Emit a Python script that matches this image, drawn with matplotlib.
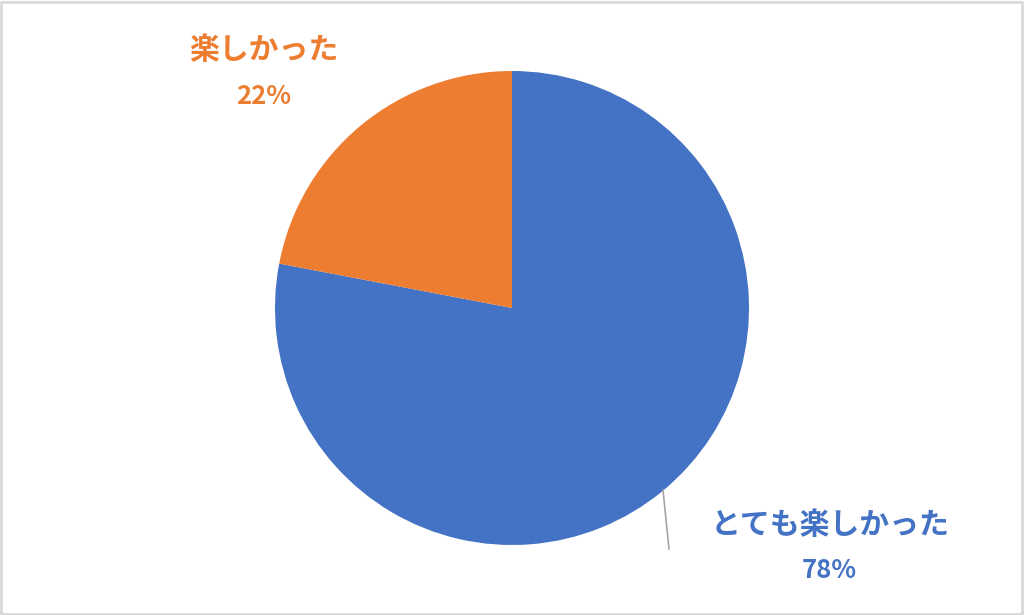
import matplotlib.pyplot as plt
from matplotlib.patches import Rectangle

plt.rcParams['font.family'] = ['Noto Sans CJK JP', 'DejaVu Sans']

labels = ['とても楽しかった', '楽しかった']
values = [78, 22]
colors = ['#4472C4', '#ED7D31']

W, H = 1024, 615
fig = plt.figure(figsize=(W / 100, H / 100), dpi=100)
ax = fig.add_axes([0, 0, 1, 1])

# pie centred in pixel coordinates (y measured from bottom)
cx, cy, r = 512, H - 308, 237
ax.pie(values, colors=colors, startangle=90, counterclock=False,
       center=(cx, cy), radius=r, frame=True,
       wedgeprops=dict(linewidth=0))
ax.set_xlim(0, W)
ax.set_ylim(0, H)
ax.axis('off')

# data labels
pct = [f'{v}%' for v in values]
ax.text(830, H - 525, labels[0], color=colors[0], fontsize=21.5,
        fontweight='bold', ha='center', va='center')
ax.text(829, H - 571, pct[0], color=colors[0], fontsize=18.5,
        fontweight='bold', ha='center', va='center')
ax.text(264, H - 50, labels[1], color=colors[1], fontsize=21.5,
        fontweight='bold', ha='center', va='center')
ax.text(264, H - 96, pct[1], color=colors[1], fontsize=18.5,
        fontweight='bold', ha='center', va='center')

# leader line
ax.plot([663, 669], [H - 490, H - 549], color='#A6A6A6', lw=1.2)

# chart frame
fig.patches.append(Rectangle((0.001, 0.002), 0.997, 0.995, transform=fig.transFigure,
                             fill=False, edgecolor='#D9D9D9', lw=2))

fig.savefig('out.png', dpi=100, facecolor='white')
